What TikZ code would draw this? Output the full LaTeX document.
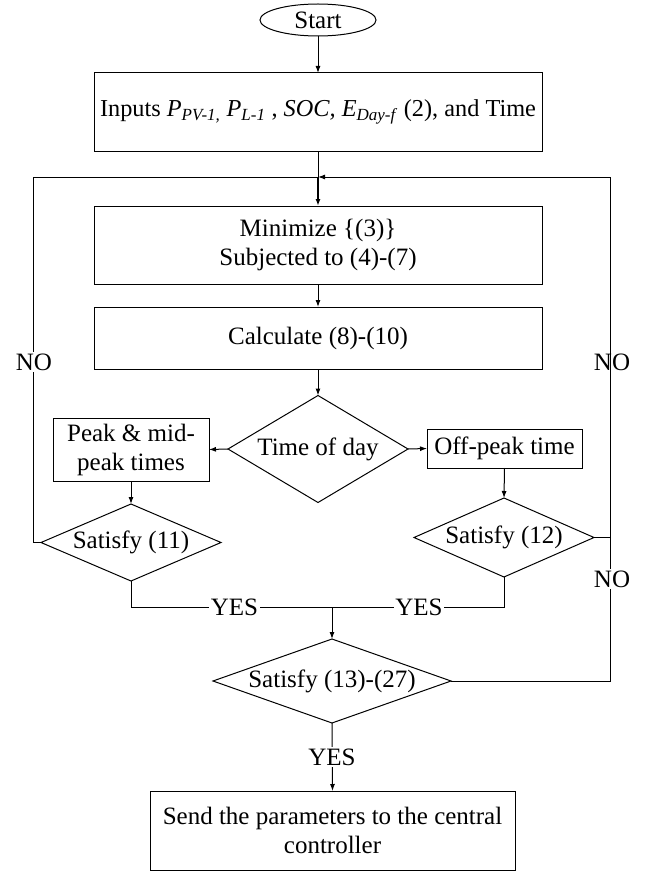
\documentclass[tikz,border=0pt]{standalone}
\usepackage{fontspec}
\setmainfont{Liberation Serif}
\usetikzlibrary{shapes.geometric,arrows.meta}
\begin{document}
\begin{tikzpicture}[x=1pt,y=-1pt,
  every node/.style={font=\fontsize{25}{29}\selectfont, inner sep=0pt, outer sep=0pt},
  box/.style={draw, rectangle, align=center, line width=1pt},
  dec/.style={draw, diamond, align=center, line width=1pt},
  conn/.style={line width=1pt},
  arr/.style={conn, -{Latex[length=7pt,width=5pt]}},
  thickarr/.style={line width=1.6pt, -{Latex[length=7pt,width=5pt]}},
  lbl/.style={fill=white, inner sep=1.5pt}]

\useasboundingbox (0,0) rectangle (650,872);

% nodes
\node[draw, ellipse, minimum width=116, minimum height=32, line width=1pt] (start) at (318,20) {Start};
\node[box, minimum width=448, minimum height=78, font=\fontsize{24.3}{29}\selectfont] (inputs) at (318,112)
  {Inputs \textit{P}\textsubscript{\textit{PV-1,}} \textit{P}\textsubscript{\textit{L-1}} , \textit{SOC,} \textit{E}\textsubscript{\textit{Day-f}} (2), and Time};
\node[box, minimum width=448, minimum height=78] (minim) at (318,245)
  {Minimize \{(3)\}\\Subjected to (4)-(7)};
\node[box, minimum width=448, minimum height=62] (calc) at (318,338)
  {Calculate (8)-(10)};
\node[dec, minimum width=180, minimum height=107, shape aspect=1.68] (tod) at (318,449)
  {Time of day};
\node[box, minimum width=156, minimum height=63] (peak) at (131,449.5)
  {Peak \& mid-\\peak times};
\node[box, minimum width=155, minimum height=39] (off) at (504.5,448.5)
  {Off-peak time};
\node[dec, minimum width=180, minimum height=77, shape aspect=2.34] (s11) at (131,542.5)
  {Satisfy (11)};
\node[dec, minimum width=180, minimum height=79, shape aspect=2.28] (s12) at (504,537.5)
  {Satisfy (12)};
\node[dec, minimum width=238, minimum height=84, shape aspect=2.83] (s13) at (332,681)
  {Satisfy (13)-(27)};
\node[box, minimum width=365, minimum height=79] (final) at (332.5,830.5)
  {Send the parameters to the central\\controller};

% junctions and bends
\coordinate (j1) at (318,177);
\coordinate (j2) at (332,607);
\coordinate (lb1) at (33,542.5);
\coordinate (lb2) at (33,177);
\coordinate (rb1) at (610,537.5);
\coordinate (rb2) at (610,177);
\coordinate (rb3) at (610,681);
\coordinate (yb1) at (131,607);
\coordinate (yb2) at (504,607);

% connectors
\draw[arr] (start) -- (inputs);
\draw[conn] (inputs.south) -- (j1);
\draw[thickarr] (j1) -- (minim.north);
\draw[arr] (minim) -- (calc);
\draw[arr] (calc.south) -- (tod.north);
\draw[arr] (tod.west) -- (peak.east);
\draw[arr] (tod.east) -- (off.west);
\draw[arr] (peak.south) -- (s11.north);
\draw[arr] (off.south) -- (s12.north);

% left NO loop
\draw[conn] (s11.west) -- (lb1) -- (lb2) -- (j1);
\node[lbl] (no1) at (34,362) {NO};

% right NO loop
\draw[arr] (s12.east) -- (rb1) -- (rb2) -- (j1);
\node[inner sep=0pt] (no2) at (612,362) {NO};

% lower right NO
\draw[conn] (s13.east) -- (rb3) -- (rb1);
\node[lbl] (no3) at (612,579) {NO};

% YES merges
\draw[conn] (s11.south) -- (yb1) -- (j2);
\draw[conn] (s12.south) -- (yb2) -- (j2);
\node[lbl] (yes1) at (234.5,607) {YES};
\node[lbl] (yes2) at (419,607) {YES};
\draw[arr] (j2) -- (s13.north);

% final
\draw[arr] (s13.south) -- (final.north);
\node[lbl] (yes3) at (332,757) {YES};
\end{tikzpicture}
\end{document}
